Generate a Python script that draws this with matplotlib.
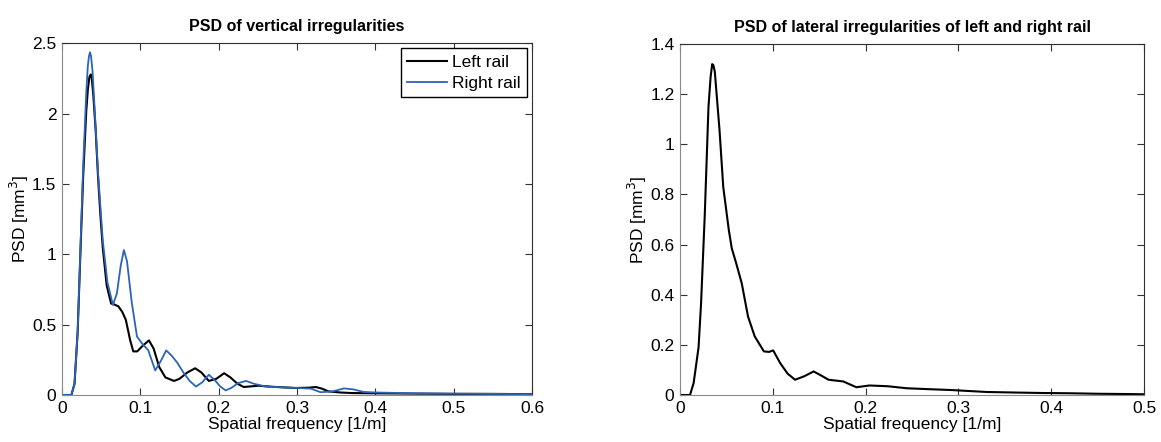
import numpy as np
import matplotlib.pyplot as plt
from matplotlib.ticker import FuncFormatter

plt.rcParams['font.family'] = ['Liberation Sans', 'DejaVu Sans']

# vertical irregularities
f_left = [0.0, 0.012, 0.016, 0.020, 0.023, 0.027, 0.031, 0.033, 0.035, 0.0368, 0.038, 0.040,
          0.043, 0.046, 0.049, 0.052, 0.057, 0.0627, 0.066, 0.072, 0.077, 0.0815, 0.087,
          0.091, 0.096, 0.103, 0.111, 0.117, 0.124, 0.132, 0.143, 0.150, 0.160, 0.170,
          0.178, 0.1875, 0.197, 0.207, 0.215, 0.224, 0.232, 0.251, 0.270, 0.298, 0.315,
          0.324, 0.332, 0.340, 0.355, 0.370, 0.400, 0.450, 0.500, 0.550, 0.600]
psd_left = [0.0, 0.0, 0.08, 0.45, 0.93, 1.55, 2.02, 2.17, 2.26, 2.278, 2.25, 2.13,
            1.88, 1.55, 1.28, 1.05, 0.78, 0.65, 0.645, 0.63, 0.59, 0.534, 0.39,
            0.31, 0.31, 0.35, 0.388, 0.33, 0.20, 0.125, 0.10, 0.115, 0.16, 0.19,
            0.16, 0.10, 0.115, 0.155, 0.125, 0.08, 0.057, 0.066, 0.058, 0.05, 0.052,
            0.057, 0.045, 0.026, 0.018, 0.014, 0.012, 0.010, 0.008, 0.008, 0.006]

f_right = [0.0, 0.012, 0.016, 0.020, 0.023, 0.027, 0.031, 0.033, 0.0345, 0.0358, 0.037, 0.039,
           0.042, 0.046, 0.052, 0.058, 0.065, 0.070, 0.075, 0.079, 0.083, 0.089, 0.0957,
           0.103, 0.110, 0.119, 0.126, 0.133, 0.140, 0.1475, 0.155, 0.163, 0.171, 0.179,
           0.1875, 0.196, 0.202, 0.209, 0.216, 0.225, 0.235, 0.245, 0.260, 0.280, 0.300,
           0.318, 0.330, 0.345, 0.360, 0.372, 0.385, 0.400, 0.450, 0.500, 0.550, 0.600]
psd_right = [0.0, 0.0, 0.08, 0.45, 0.95, 1.62, 2.15, 2.34, 2.41, 2.436, 2.41, 2.30,
             2.00, 1.58, 1.10, 0.80, 0.64, 0.72, 0.92, 1.03, 0.95, 0.66, 0.416,
             0.36, 0.32, 0.175, 0.24, 0.317, 0.28, 0.227, 0.16, 0.10, 0.06, 0.09,
             0.144, 0.10, 0.06, 0.033, 0.05, 0.085, 0.10, 0.08, 0.06, 0.055, 0.05,
             0.045, 0.02, 0.025, 0.047, 0.04, 0.022, 0.018, 0.012, 0.010, 0.008, 0.006]

# lateral irregularities
f_lat = [0.0, 0.0108, 0.0147, 0.020, 0.0227, 0.0267, 0.0307, 0.033, 0.0347, 0.036, 0.0375,
         0.0426, 0.0466, 0.0526, 0.0558, 0.0606, 0.0665, 0.0733, 0.0805, 0.0904, 0.0960,
         0.1004, 0.108, 0.116, 0.124, 0.134, 0.144, 0.152, 0.160, 0.176, 0.190, 0.204,
         0.224, 0.244, 0.270, 0.2916, 0.331, 0.360, 0.391, 0.420, 0.450, 0.480, 0.500]
psd_lat = [0.0, 0.0, 0.048, 0.19, 0.366, 0.72, 1.15, 1.27, 1.32, 1.315, 1.29,
           1.056, 0.83, 0.658, 0.585, 0.525, 0.446, 0.313, 0.234, 0.174, 0.172,
           0.178, 0.127, 0.085, 0.061, 0.075, 0.094, 0.078, 0.061, 0.054, 0.031, 0.038,
           0.035, 0.027, 0.023, 0.02, 0.012, 0.010, 0.008, 0.007, 0.005, 0.004, 0.003]

blue = '#2a63b8'
fmt = FuncFormatter(lambda v, p: '%g' % v)


def style_axes(ax):
    ax.tick_params(direction='in', length=5, top=True, right=True, labelsize=12.5,
                   pad=4, color='#333333')
    ax.spines['bottom'].set_color('#8a8a8a')
    ax.spines['left'].set_color('#8a8a8a')
    ax.spines['top'].set_color('#303030')
    ax.spines['right'].set_color('#303030')
    ax.xaxis.set_major_formatter(fmt)
    ax.yaxis.set_major_formatter(fmt)


fig = plt.figure(figsize=(11.61, 4.42), dpi=100)

ax1 = fig.add_axes([0.0534, 0.1063, 0.4048, 0.796])
ax1.plot(f_left, psd_left, color='black', lw=1.5, label='Left rail')
ax1.plot(f_right, psd_right, color=blue, lw=1.3, label='Right rail')
ax1.set_xlim(0, 0.6)
ax1.set_ylim(0, 2.5)
ax1.set_xticks(np.arange(0, 0.61, 0.1))
ax1.set_yticks(np.arange(0, 2.51, 0.5))
ax1.set_title('PSD of vertical irregularities', fontsize=11.5, fontweight='bold', pad=9)
ax1.set_xlabel('Spatial frequency [1/m]', fontsize=12.5, labelpad=1)
ax1.set_ylabel('PSD [mm$^3$]', fontsize=12.5, labelpad=1)
style_axes(ax1)
leg = ax1.legend(loc='upper right', fontsize=12.5, fancybox=False, framealpha=1,
                 edgecolor='black', handlelength=2.3, borderaxespad=0.3,
                 handletextpad=0.3, borderpad=0.35, labelspacing=0.35)
leg.get_frame().set_linewidth(1.0)

ax2 = fig.add_axes([0.5857, 0.1063, 0.3997, 0.794])
ax2.plot(f_lat, psd_lat, color='black', lw=1.5)
ax2.set_xlim(0, 0.5)
ax2.set_ylim(0, 1.4)
ax2.set_xticks(np.arange(0, 0.51, 0.1))
ax2.set_yticks(np.arange(0, 1.41, 0.2))
ax2.set_title('PSD of lateral irregularities of left and right rail', fontsize=11.5,
              fontweight='bold', pad=9)
ax2.set_xlabel('Spatial frequency [1/m]', fontsize=12.5, labelpad=1)
ax2.set_ylabel('PSD [mm$^3$]', fontsize=12.5, labelpad=1)
style_axes(ax2)

fig.savefig('out.png', dpi=100)
